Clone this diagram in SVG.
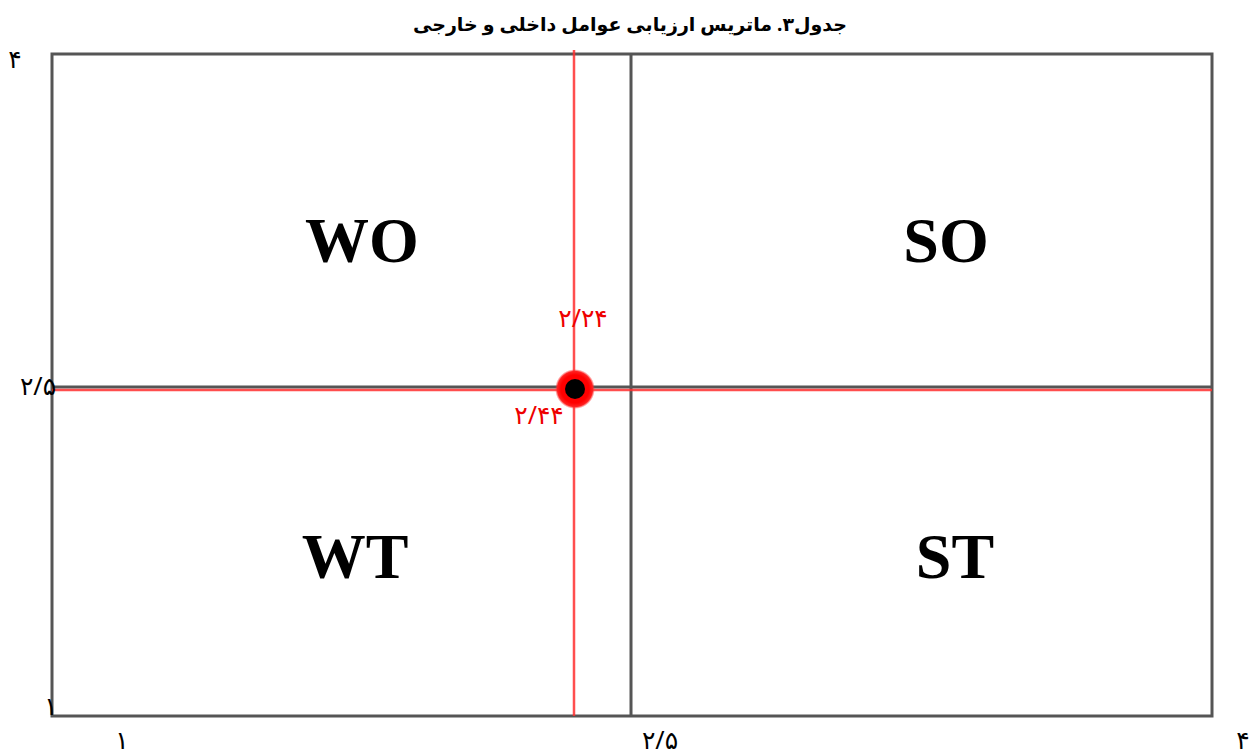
<svg xmlns="http://www.w3.org/2000/svg" width="1255" height="756" viewBox="0 0 1255 756">
<defs>
<style>
.frame{fill:none;stroke:#555;stroke-width:3}
.gl{stroke:#555;stroke-width:3}
.rl{stroke:#ff3030;stroke-width:2.5;opacity:0.85}
.ax{font-family:"Noto Sans","DejaVu Sans",sans-serif;font-size:25px;fill:#000;text-anchor:middle}
.rx{font-family:"Noto Sans","DejaVu Sans",sans-serif;font-size:25px;fill:#e00;text-anchor:middle}
.q{font-family:"Liberation Serif",serif;font-weight:bold;font-size:64px;fill:#000;text-anchor:middle}
.title{font-family:"Noto Sans","DejaVu Sans",sans-serif;font-weight:bold;font-size:19px;fill:#000;text-anchor:middle}
</style>
<radialGradient id="glow" cx="0.5" cy="0.5" r="0.5">
<stop offset="0.7" stop-color="#ff0000"/>
<stop offset="0.88" stop-color="#ff2020"/>
<stop offset="1" stop-color="#ff4040" stop-opacity="0"/>
</radialGradient>
</defs>
<rect width="1255" height="756" fill="#fff"/>
<text class="title" x="630" y="31" direction="rtl">جدول۳. ماتریس ارزیابی عوامل داخلی و خارجی</text>
<g id="grid">
<rect class="frame" x="52" y="54" width="1160" height="662"/>
<line class="gl" x1="52" y1="387" x2="1212" y2="387"/>
<line class="gl" x1="631" y1="54" x2="631" y2="716"/>
<line class="rl" x1="52" y1="390" x2="1212" y2="390"/>
<line class="rl" x1="574" y1="50" x2="574" y2="716"/>
</g>
<g id="quad-WO"><text class="q" x="362" y="262">WO</text></g>
<g id="quad-SO"><text class="q" x="946" y="262">SO</text></g>
<g id="quad-WT"><text class="q" x="355" y="578">WT</text></g>
<g id="quad-ST"><text class="q" x="955" y="578">ST</text></g>
<g id="point">
<circle cx="575" cy="389" r="20" fill="url(#glow)"/>
<circle cx="575" cy="389" r="10" fill="#000"/>
<text class="rx" x="583" y="327">۲/۲۴</text>
<text class="rx" x="539" y="424">۲/۴۴</text>
</g>
<g id="axis-labels">
<text class="ax" x="15" y="68">۴</text>
<text class="ax" x="38" y="395">۲/۵</text>
<text class="ax" x="51" y="715">۱</text>
<text class="ax" x="122" y="749">۱</text>
<text class="ax" x="660" y="749">۲/۵</text>
<text class="ax" x="1243" y="749">۴</text>
</g>
</svg>
